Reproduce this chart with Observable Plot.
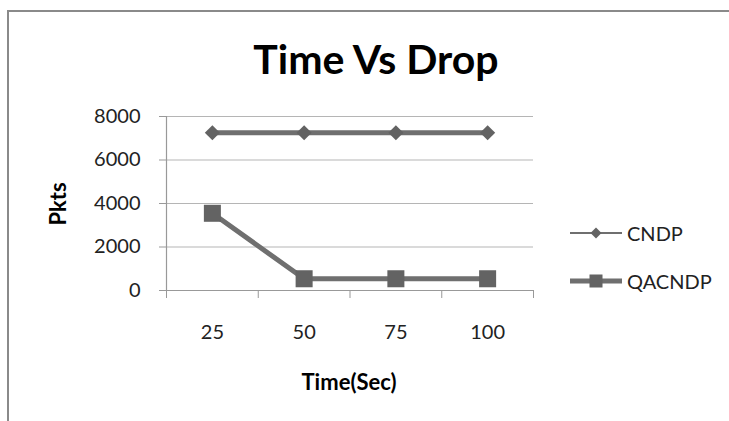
<!DOCTYPE html>
<html><head><meta charset="utf-8">
<script src="https://cdn.jsdelivr.net/npm/d3@7"></script>
<script src="https://cdn.jsdelivr.net/npm/@observablehq/plot@0.6"></script>
<style>
html,body{margin:0;padding:0;background:#fff;overflow:hidden;}
#wrap{position:relative;width:729px;height:421px;font-family:Lato,"Open Sans",sans-serif;overflow:hidden;}
#wrap .border{position:absolute;left:7px;top:10px;width:722px;height:411px;border-left:2px solid #8a8a8a;border-top:2px solid #8a8a8a;box-sizing:border-box;}
.title{position:absolute;left:376px;top:34px;transform:translateX(-50%);white-space:nowrap;font-weight:bold;font-size:41px;color:#000;}
.ylab{position:absolute;left:57px;top:204px;transform:translate(-50%,-50%) rotate(-90deg);font-weight:bold;font-size:22px;white-space:nowrap;}
.xlab{position:absolute;left:349px;top:381px;transform:translate(-50%,-50%);font-weight:bold;font-size:22px;white-space:nowrap;}
.legend{position:absolute;left:569px;top:220px;font-size:20px;color:#222;}
.legend .row{display:flex;align-items:center;height:25px;margin-bottom:23px;white-space:nowrap;}
.legend svg{margin-right:4px;}
</style>
</head><body>
<div id="wrap">
<div class="border"></div>
</div>
<script>
const times = [25, 50, 75, 100];
const cndp = [7250, 7250, 7250, 7250];
const qacndp = [3550, 540, 540, 540];
const yTicks = [0, 2000, 4000, 6000, 8000];
const seriesNames = ["CNDP", "QACNDP"];
const title = "Time Vs Drop";
const xTitle = "Time(Sec)";
const yTitle = "Pkts";

const lineColor = "#6f6f6f";
const markColor = "#636363";
const step = times[1] - times[0];
const xDomain = [times[0] - step / 2, times[times.length - 1] + step / 2];
const boundaries = times.map(t => t - step / 2).concat([xDomain[1]]);

const rowsC = times.map((t, i) => ({time: t, value: cndp[i]}));
const rowsQ = times.map((t, i) => ({time: t, value: qacndp[i]}));

const chart = Plot.plot({
  width: 729, height: 421,
  marginLeft: 166, marginRight: 196, marginTop: 116, marginBottom: 131,
  style: {fontFamily: "Lato, 'Open Sans', sans-serif", fontSize: "20px", color: "#222", background: "transparent"},
  x: {type: "linear", domain: xDomain},
  y: {domain: [yTicks[0], yTicks[yTicks.length - 1]]},
  marks: [
    Plot.gridY(yTicks, {stroke: "#b5b5b5", strokeOpacity: 1, strokeWidth: 1.2}),
    Plot.axisY(yTicks, {tickSize: 7, tickPadding: 19, stroke: "#999", label: null, tickFormat: d => String(d)}),
    Plot.axisX(boundaries, {tickSize: 8, stroke: "#999", tickFormat: () => "", label: null}),
    Plot.axisX(times, {tickSize: 0, tickPadding: 34, label: null, tickFormat: d => String(d)}),
    Plot.ruleX([xDomain[0]], {stroke: "#999", strokeWidth: 1.2}),
    Plot.ruleY([0], {stroke: "#999", strokeWidth: 1.2}),
    Plot.line(rowsC, {x: "time", y: "value", stroke: lineColor, strokeWidth: 5}),
    Plot.dot(rowsC, {x: "time", y: "value", symbol: "diamond2", r: 6.8, fill: markColor, stroke: "none"}),
    Plot.line(rowsQ, {x: "time", y: "value", stroke: lineColor, strokeWidth: 5}),
    Plot.dot(rowsQ, {x: "time", y: "value", symbol: "square", r: 9.6, fill: markColor, stroke: "none"})
  ]
});
const wrap = document.getElementById("wrap");
chart.style.position = "absolute";
chart.style.left = "0";
chart.style.top = "0";
wrap.appendChild(chart);

function addDiv(cls, text) {
  const d = document.createElement("div");
  d.className = cls;
  d.textContent = text;
  wrap.appendChild(d);
  return d;
}
addDiv("title", title);
addDiv("ylab", yTitle);
addDiv("xlab", xTitle);

const legend = document.createElement("div");
legend.className = "legend";
const swatches = [
  `<svg width="54" height="20"><line x1="1" y1="10" x2="53" y2="10" stroke="${lineColor}" stroke-width="2"/><path d="M27,4.5L32.5,10L27,15.5L21.5,10Z" fill="${markColor}"/></svg>`,
  `<svg width="54" height="20"><line x1="1" y1="10" x2="53" y2="10" stroke="${lineColor}" stroke-width="5"/><rect x="20.5" y="3.5" width="13" height="13" fill="${markColor}"/></svg>`
];
seriesNames.forEach((n, i) => {
  const r = document.createElement("div");
  r.className = "row";
  r.innerHTML = swatches[i];
  const s = document.createElement("span");
  s.textContent = n;
  r.appendChild(s);
  legend.appendChild(r);
});
wrap.appendChild(legend);
</script>
</body></html>
